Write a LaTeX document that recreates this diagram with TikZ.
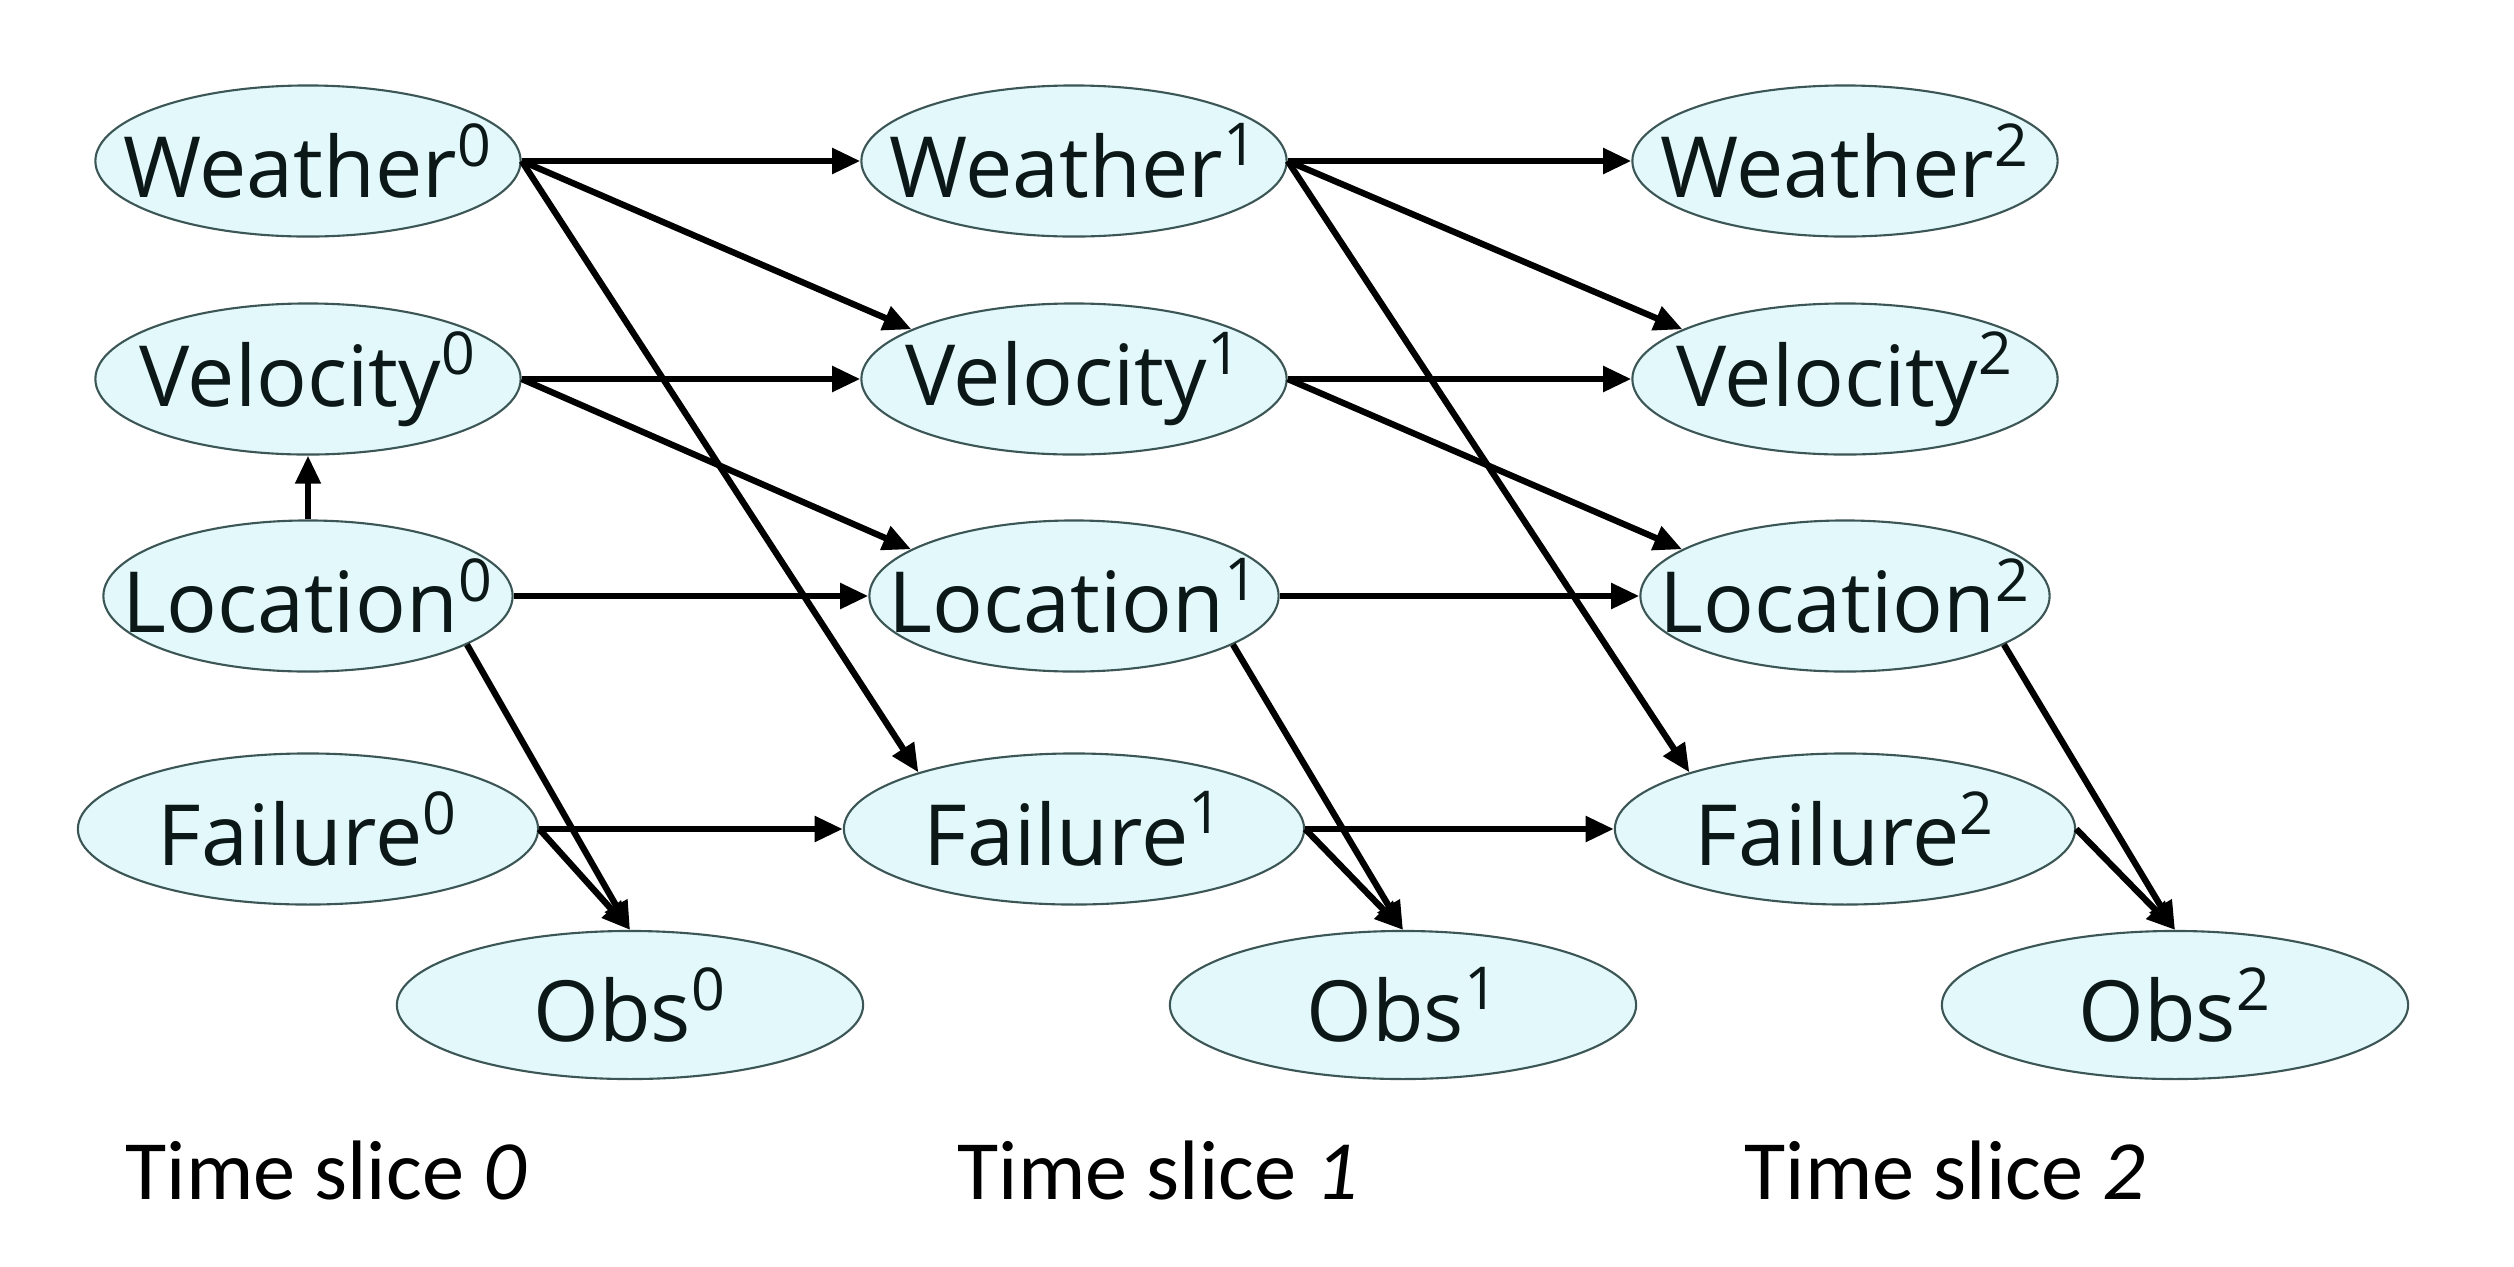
\documentclass[tikz,border=0pt]{standalone}
\usepackage{fontspec}
\setmainfont{Carlito}
\newfontfamily\varfont{Open Sans}
\usetikzlibrary{arrows.meta,shapes.geometric}

\definecolor{varfill}{HTML}{E2F8FA}
\definecolor{varline}{HTML}{3C5656}
\definecolor{vartext}{HTML}{0C1818}

% label of a variable: the text may reach the ellipse outline
\newcommand{\varlabel}[2]{\makebox[0pt]{#1\textsuperscript{#2}}}

\begin{document}
\begin{tikzpicture}[x=0.01cm,y=-0.01cm,
  var/.style={ellipse, draw=varline, line width=0.6pt, fill=varfill, inner sep=0pt,
    minimum height=1.51cm, text=vartext, font=\varfont\fontsize{24}{27}\selectfont},
  wvar/.style={var, minimum width=4.25cm},
  lvar/.style={var, minimum width=4.09cm},
  fvar/.style={var, minimum width=4.60cm},
  ovar/.style={var, minimum width=4.66cm, minimum height=1.48cm},
  arr/.style={line width=1.8pt, -{Triangle[length=8pt,width=7pt]}},
  slice/.style={anchor=base west, inner sep=0pt, font=\fontsize{24}{28}\selectfont}]

\path[use as bounding box] (0,0) rectangle (2514,1266);

% variables of the three time slices
\foreach \t/\x/\ox in {0/308/630, 1/1074/1403, 2/1845/2175} {
  \node[wvar] (w\t) at (\x,161) {\varlabel{Weather}{\t}};
  \node[wvar] (v\t) at (\x,379) {\varlabel{Velocity}{\t}};
  \node[lvar] (l\t) at (\x,596) {\varlabel{Location}{\t}};
  \node[fvar] (f\t) at (\x,829) {\varlabel{Failure}{\t}};
  \node[ovar] (o\t) at (\ox,1005) {\varlabel{Obs}{\t}};
}

% slice labels
\node[slice] (s0) at (125,1199) {Time slice \textit{0}};
\node[slice] (s1) at (957,1199) {Time slice \textit{1}};
\node[slice] (s2) at (1744,1199) {Time slice \textit{2}};

% dependencies inside a slice
\draw[arr] (l0.north) -- (v0.south);
\foreach \t in {0,1,2} {
  \draw[arr] (l\t.-17) -- (o\t.north);
  \draw[arr] (f\t.east) -- (o\t.north);
}

% transitions between consecutive slices
\foreach \a/\b in {0/1, 1/2} {
  \draw[arr] (w\a.east) -- (w\b.west);
  \draw[arr] (w\a.east) -- (v\b.163);
  \draw[arr] (w\a.east) -- (f\b.160);
  \draw[arr] (v\a.east) -- (v\b.west);
  \draw[arr] (v\a.east) -- (l\b.164);
  \draw[arr] (l\a.east) -- (l\b.west);
  \draw[arr] (f\a.east) -- (f\b.west);
}
\end{tikzpicture}
\end{document}
